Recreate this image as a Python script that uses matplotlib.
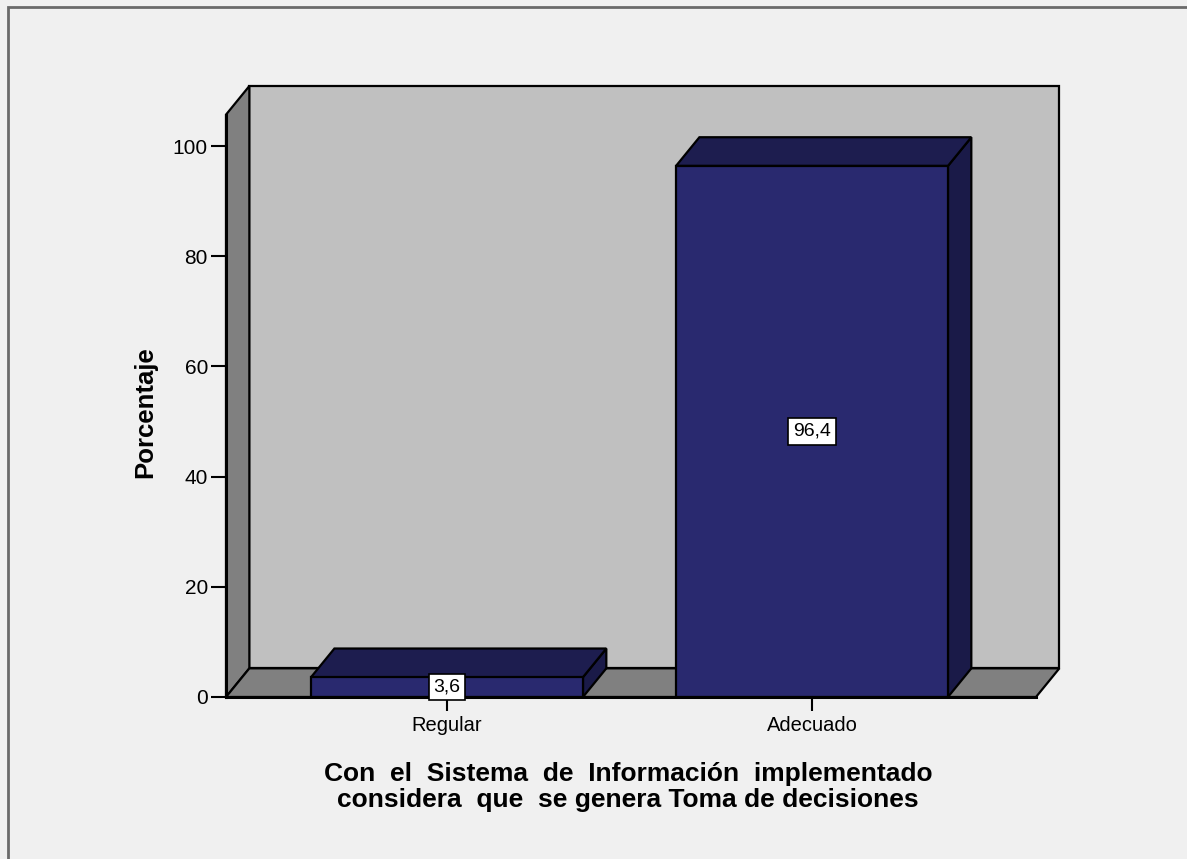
import matplotlib.pyplot as plt
from matplotlib.patches import Polygon, Rectangle
from matplotlib.lines import Line2D

# =======================
# Datos
# =======================
categorias = ["Regular", "Adecuado"]
porcentajes = [3.6, 96.4]
etiquetas = ["3,6", "96,4"]
yticks = [0, 20, 40, 60, 80, 100]

plt.rcParams['font.family'] = ['Liberation Sans', 'DejaVu Sans']

W, H = 1187, 859
fig = plt.figure(figsize=(W / 100, H / 100), dpi=100)
fig.patch.set_facecolor('#F0F0F0')

# marco exterior (solo arriba e izquierda visibles)
fig.add_artist(Rectangle((8 / W, -0.1), 1.2, 1.1 - 7 / H,
                         transform=fig.transFigure, fill=False,
                         edgecolor='#6A6A6A', linewidth=2))

# ---- ejes = plano frontal ----
ax = fig.add_axes([226 / W, (H - 697) / H, (1036 - 226) / W, (697 - 86) / H])
x0, x1 = -0.6055, 1.6137
ylim_top = 110.9
ax.set_xlim(x0, x1)
ax.set_ylim(0, ylim_top)
ax.patch.set_visible(False)
for s in ax.spines.values():
    s.set_visible(False)

dx, dy = 0.064, 5.2        # profundidad 3D
alto = ylim_top - dy       # altura de las paredes

gris_pared = '#C0C0C0'
gris_suelo = '#808080'
lw = 1.6

# pared del fondo
ax.add_patch(Polygon([(x0 + dx, dy), (x1 + dx, dy), (x1 + dx, alto + dy), (x0 + dx, alto + dy)],
                     closed=True, facecolor=gris_pared, edgecolor='black', lw=lw, clip_on=False))
# pared izquierda
ax.add_patch(Polygon([(x0, 0), (x0, alto), (x0 + dx, alto + dy), (x0 + dx, dy)],
                     closed=True, facecolor=gris_suelo, edgecolor='black', lw=lw, clip_on=False))
# suelo
ax.add_patch(Polygon([(x0, 0), (x1, 0), (x1 + dx, dy), (x0 + dx, dy)],
                     closed=True, facecolor=gris_suelo, edgecolor='black', lw=lw, clip_on=False))
ax.add_line(Line2D([x0, x1], [0, 0], color='black', lw=2.2, clip_on=False))
ax.add_line(Line2D([x0, x0], [0, alto], color='black', lw=2.2, clip_on=False))

# ---- barras 3D ----
ancho = 0.745
frente = '#29296F'
arriba = '#1D1D4F'
lado = '#1A1A48'
for i, v in enumerate(porcentajes):
    a, b = i - ancho / 2, i + ancho / 2
    ax.add_patch(Polygon([(b, 0), (b + dx, dy), (b + dx, v + dy), (b, v)],
                         closed=True, facecolor=lado, edgecolor='black', lw=lw, clip_on=False))
    ax.add_patch(Polygon([(a, v), (b, v), (b + dx, v + dy), (a + dx, v + dy)],
                         closed=True, facecolor=arriba, edgecolor='black', lw=lw, clip_on=False))
    ax.add_patch(Rectangle((a, 0), ancho, v, facecolor=frente, edgecolor='black', lw=lw, clip_on=False))
    ax.text(i, v / 2, etiquetas[i], ha='center', va='center', fontsize=14, zorder=5,
            bbox=dict(boxstyle='square,pad=0.25', facecolor='white', edgecolor='black', lw=1.2))

# ---- ejes / ticks ----
ax.set_yticks(yticks)
ax.set_yticklabels([str(t) for t in yticks])
ax.set_xticks(range(len(categorias)))
ax.set_xticklabels(categorias)
ax.tick_params(axis='y', direction='out', length=11, width=1.5, labelsize=15, pad=2)
ax.tick_params(axis='x', direction='out', length=10, width=1.5, labelsize=14.5, pad=4)

fig.text(145 / W, 1 - 412 / H, "Porcentaje", rotation=90, ha='center', va='center',
         fontsize=18.5, fontweight='bold')
fig.text(628 / W, 1 - 787 / H,
         "Con  el  Sistema  de  Información  implementado\nconsidera  que  se genera Toma de decisiones",
         ha='center', va='center', fontsize=19, fontweight='bold', linespacing=1.1)

fig.savefig("out.png", dpi=100, facecolor=fig.get_facecolor())
